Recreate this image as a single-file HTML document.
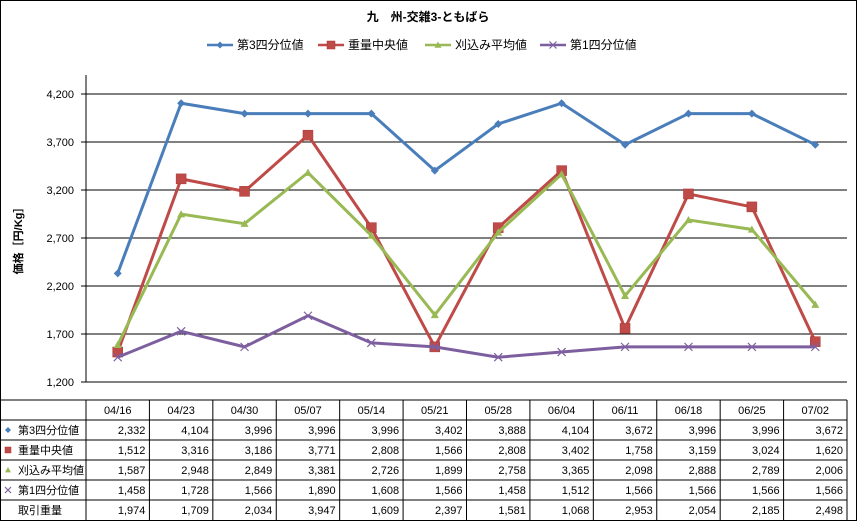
<!DOCTYPE html>
<html><head><meta charset="utf-8"><style>
body{margin:0;background:#fff}
svg{display:block;font-family:"Liberation Sans","Noto Sans CJK JP",sans-serif}
</style></head><body>
<svg id="c" width="857" height="521" viewBox="0 0 857 521">
<rect x="0.5" y="0.5" width="856" height="520" fill="#fff" stroke="#000"/>
<text x="428" y="21" text-anchor="middle" font-size="12" font-weight="bold">九　州-交雑3-ともばら</text>
<text transform="translate(22,238) rotate(-90)" text-anchor="middle" font-size="11" font-weight="bold">価格［円/Kg］</text>
<g id="grid"></g><g id="legend"></g><g id="series"></g><g id="table"></g>
</svg>
<script>
const categories=["04/16","04/23","04/30","05/07","05/14","05/21","05/28","06/04","06/11","06/18","06/25","07/02"];
const q3=[2332,4104,3996,3996,3996,3402,3888,4104,3672,3996,3996,3672];
const median=[1512,3316,3186,3771,2808,1566,2808,3402,1758,3159,3024,1620];
const trimmedMean=[1587,2948,2849,3381,2726,1899,2758,3365,2098,2888,2789,2006];
const q1=[1458,1728,1566,1890,1608,1566,1458,1512,1566,1566,1566,1566];
const volume=[1974,1709,2034,3947,1609,2397,1581,1068,2953,2054,2185,2498];
const seriesNames=["第3四分位値","重量中央値","刈込み平均値","第1四分位値"];
const yTicks=[1200,1700,2200,2700,3200,3700,4200];
const NS="http://www.w3.org/2000/svg";
const X0=86,X1=847,Y0=382,Y1=94,VMIN=1200,VMAX=4200;
const cw=(X1-X0)/categories.length;
const xs=i=>X0+cw*(i+0.5);
const ys=v=>Y0-(v-VMIN)/(VMAX-VMIN)*(Y0-Y1);
function el(t,a,p){const e=document.createElementNS(NS,t);for(const k in a)e.setAttribute(k,a[k]);p.appendChild(e);return e;}
const fmt=v=>v.toLocaleString("en-US");
const grid=document.getElementById("grid");
yTicks.forEach(t=>{
  const l=el("line",{x1:X0-5,x2:X1,y1:ys(t),y2:ys(t),stroke:"#000","stroke-width":1},grid);
  
  
  const tx=el("text",{x:X0-12,y:ys(t)+4,"text-anchor":"end","font-size":11},grid);
  tx.textContent=fmt(t);
  
  
});
const ax=el("line",{x1:X0,x2:X0,y1:75,y2:Y0,stroke:"#000"},grid);


const colors=["#4a7ebb","#be4b48","#98b954","#7d5fa0"];
const data=[q3,median,trimmedMean,q1];
function marker(k,x,y,g,s){
  let m;
  if(k==0)m=el("polygon",{points:`${x},${y-s} ${x+s},${y} ${x},${y+s} ${x-s},${y}`,fill:colors[0]},g);
  else if(k==1)m=el("rect",{x:x-s,y:y-s,width:2*s,height:2*s,fill:colors[1],stroke:"#a33",["stroke-width"]:0.5},g);
  else if(k==2)m=el("polygon",{points:`${x},${y-s} ${x+s},${y+s*0.8} ${x-s},${y+s*0.8}`,fill:colors[2]},g);
  else m=el("path",{d:`M${x-s} ${y-s}L${x+s} ${y+s}M${x-s} ${y+s}L${x+s} ${y-s}`,stroke:colors[3],"stroke-width":1.2},g);
  return m;
}
const sg=document.getElementById("series");
data.forEach((d,k)=>{
  const g=el("g",{},sg);
  
  
  const p=el("polyline",{points:d.map((v,i)=>xs(i)+","+ys(v)).join(" "),fill:"none",stroke:colors[k],"stroke-width":3},g);
  
  
  d.forEach((v,i)=>{const m=marker(k,xs(i),ys(v),g,k==1?5:4);
    
    });
});
const lg=document.getElementById("legend");
const lx=[207,318,425,540];
seriesNames.forEach((n,k)=>{
  const g=el("g",{},lg);
  
  
  el("line",{x1:lx[k],x2:lx[k]+26,y1:45,y2:45,stroke:colors[k],"stroke-width":2.5},g);
  marker(k,lx[k]+13,45,g,k==1?4:3.5);
  const t=el("text",{x:lx[k]+30,y:49,"font-size":12},g);t.textContent=n;
});
const tb=document.getElementById("table");
const TY=400,RH=20;
const rowsData=[q3,median,trimmedMean,q1,volume];
const rowNames=[...seriesNames,"取引重量"];
el("line",{x1:0,x2:X1,y1:TY,y2:TY,stroke:"#000"},tb);
for(let r=1;r<=5;r++)el("line",{x1:0,x2:X1,y1:TY+RH*r,y2:TY+RH*r,stroke:"#000"},tb);
for(let i=0;i<=categories.length;i++)el("line",{x1:X0+cw*i,x2:X0+cw*i,y1:TY,y2:521,stroke:"#000"},tb);
categories.forEach((c,i)=>{
  const t=el("text",{x:xs(i),y:TY+14,"text-anchor":"middle","font-size":11},tb);t.textContent=c;
  
  
});
rowsData.forEach((d,r)=>{
  const y=TY+RH*(r+1)+14;
  if(r<4){const m=marker(r,8,y-4,tb,r==1?3:3);}
  const n=el("text",{x:18,y:y,"font-size":11},tb);n.textContent=rowNames[r];
  
  
  d.forEach((v,i)=>{const t=el("text",{x:X0+cw*(i+1)-4,y:y,"text-anchor":"end","font-size":11},tb);t.textContent=fmt(v);
    
    });
});
</script>
</body></html>
